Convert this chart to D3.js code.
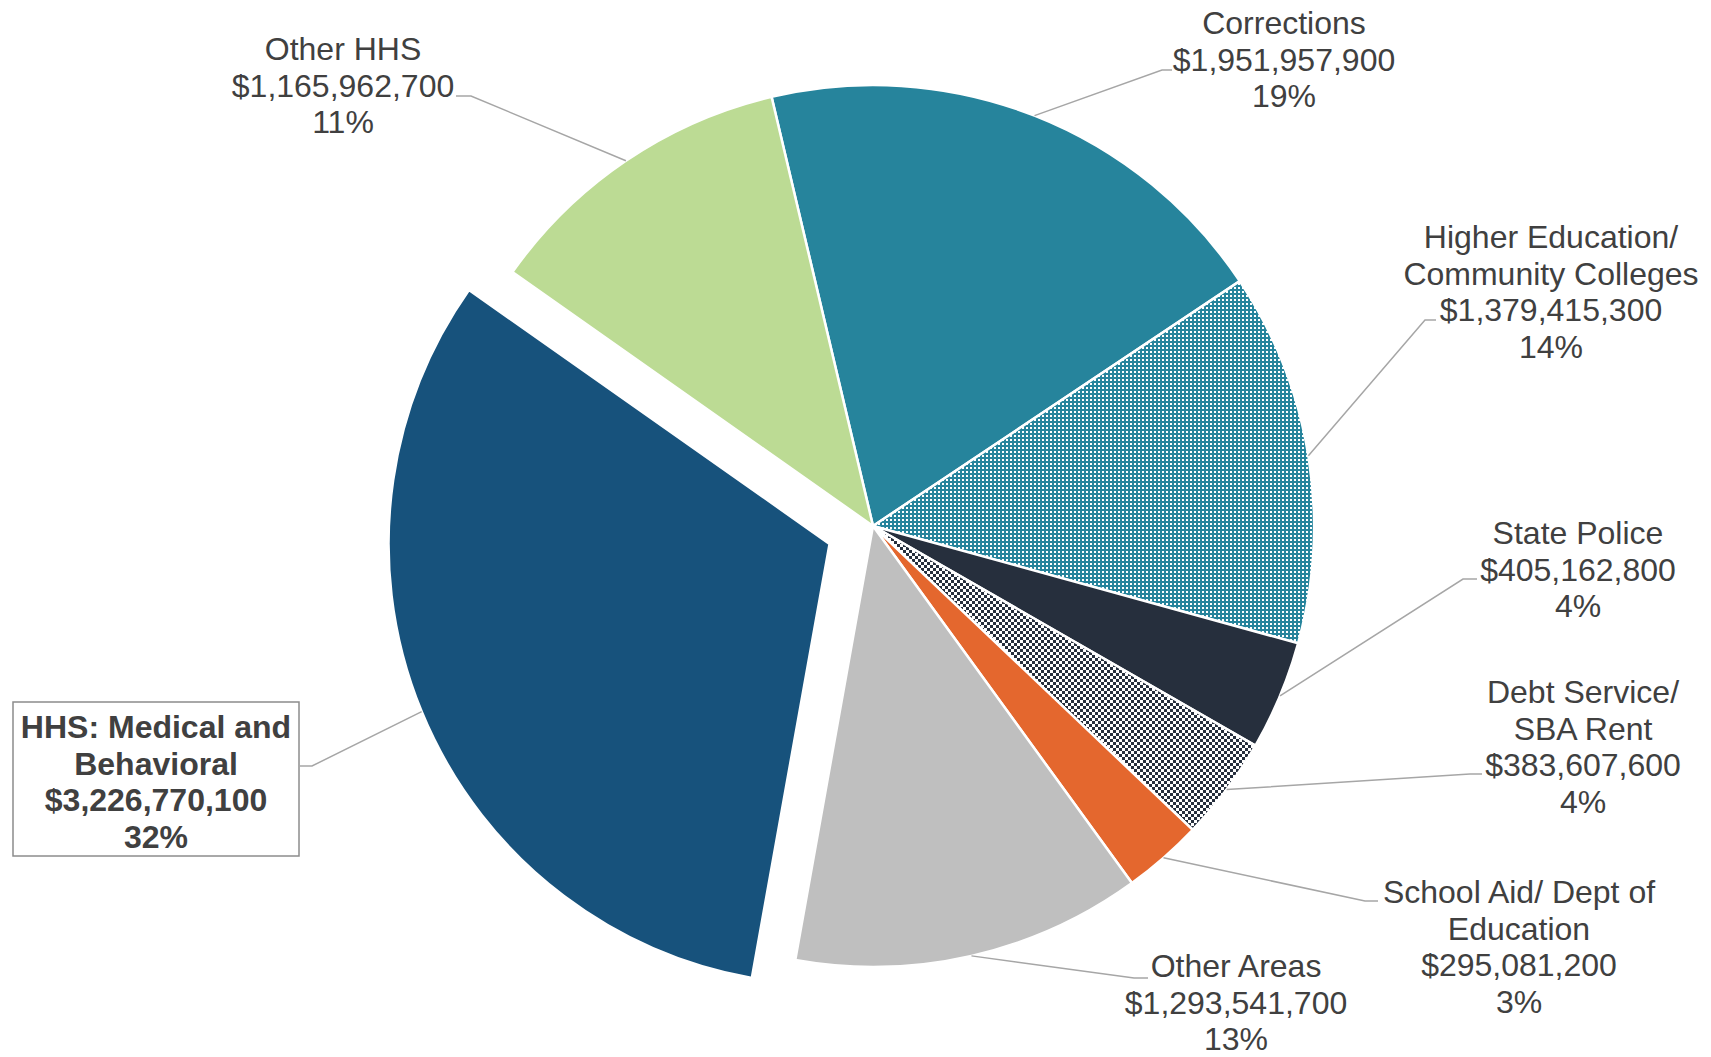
<!DOCTYPE html>
<html>
<head>
<meta charset="utf-8">
<script src="https://cdn.jsdelivr.net/npm/d3@7"></script>
<style>
  html, body { margin: 0; padding: 0; background: #ffffff; }
  svg { display: block; }
</style>
</head>
<body>
<svg id="chart" width="1711" height="1057"></svg>
<script>
// ---- DATA ----
const categories = [
  ["Corrections"],
  ["Higher Education/", "Community Colleges"],
  ["State Police"],
  ["Debt Service/", "SBA Rent"],
  ["School Aid/ Dept of", "Education"],
  ["Other Areas"],
  ["HHS: Medical and", "Behavioral"],
  ["Other HHS"]
];
const values = [1951957900, 1379415300, 405162800, 383607600, 295081200, 1293541700, 3226770100, 1165962700];
const percentLabels = ["19%", "14%", "4%", "4%", "3%", "13%", "32%", "11%"];

// ---- LAYOUT / STYLE ----
const W = 1711, H = 1057;
const cx = 873, cy = 526, R = 441;
const startDeg = -13.3;
const explodeIndex = 6, explodeDist = 47;
const fills = ["#26849c", "url(#dots)", "#262f3d", "url(#checker)", "#e4672e", "#bfbfbf", "#17527c", "#bcdb94"];
const fontSize = 32, lineH = 36.5;
const textColor = "#404040";
// label anchor (center x, center y of first line) and leader elbow points
const labelLayout = [
  { x: 1284, y: 23,  leader: [[1172, 70], [1162, 70]] },
  { x: 1551, y: 237, leader: [[1436, 320], [1425, 320]] },
  { x: 1578, y: 533, leader: [[1477, 579], [1463, 579]] },
  { x: 1583, y: 692, leader: [[1482, 774], [1470, 774]] },
  { x: 1519, y: 892, leader: [[1378, 901], [1365, 901]] },
  { x: 1236, y: 966, leader: [[1148, 978], [1134, 978]] },
  { x: 156,  y: 727, leader: [[300, 766], [312, 766]], box: [13, 702, 299, 856], bold: true },
  { x: 343,  y: 49,  leader: [[456, 96], [471, 96]] }
];

const fmt = d3.format("$,");

const svg = d3.select("#chart");
const defs = svg.append("defs");

// dotted teal pattern
const dots = defs.append("pattern").attr("id", "dots")
  .attr("patternUnits", "userSpaceOnUse").attr("width", 4).attr("height", 4);
dots.append("rect").attr("width", 4).attr("height", 4).attr("fill", "#26849c");
dots.append("rect").attr("x", 1).attr("y", 1).attr("width", 2).attr("height", 2).attr("fill", "#ffffff");

// checkerboard pattern
const chk = defs.append("pattern").attr("id", "checker")
  .attr("patternUnits", "userSpaceOnUse").attr("width", 6).attr("height", 6);
chk.append("rect").attr("width", 6).attr("height", 6).attr("fill", "#ffffff");
chk.append("rect").attr("x", 0).attr("y", 0).attr("width", 3).attr("height", 3).attr("fill", "#262f3d");
chk.append("rect").attr("x", 3).attr("y", 3).attr("width", 3).attr("height", 3).attr("fill", "#262f3d");

const a0 = startDeg * Math.PI / 180;
const pie = d3.pie().sort(null).value(d => d).startAngle(a0).endAngle(a0 + 2 * Math.PI);
const arcs = pie(values);
const arcGen = d3.arc().innerRadius(0).outerRadius(R);
const edgeGen = d3.arc().innerRadius(R).outerRadius(R);

function offsetOf(i) {
  if (i !== explodeIndex) return [0, 0];
  const mid = (arcs[i].startAngle + arcs[i].endAngle) / 2;
  return [Math.sin(mid) * explodeDist, -Math.cos(mid) * explodeDist];
}

const g = svg.append("g").attr("transform", `translate(${cx},${cy})`);
g.selectAll("path.slice").data(arcs).enter().append("path")
  .attr("class", "slice")
  .attr("transform", (d, i) => { const o = offsetOf(i); return `translate(${o[0]},${o[1]})`; })
  .attr("d", arcGen)
  .attr("fill", (d, i) => fills[i])
  .attr("stroke", "#ffffff")
  .attr("stroke-width", 2.5)
  .attr("stroke-linejoin", "round");

// leader lines
const line = d3.line();
arcs.forEach((d, i) => {
  const o = offsetOf(i);
  const c = edgeGen.centroid(d);
  const end = [cx + o[0] + c[0], cy + o[1] + c[1]];
  const pts = labelLayout[i].leader.concat([end]);
  svg.append("path").attr("d", line(pts))
    .attr("fill", "none").attr("stroke", "#a6a6a6").attr("stroke-width", 1.5);
});

// labels
arcs.forEach((d, i) => {
  const L = labelLayout[i];
  if (L.box) {
    svg.append("rect").attr("x", L.box[0]).attr("y", L.box[1])
      .attr("width", L.box[2] - L.box[0]).attr("height", L.box[3] - L.box[1])
      .attr("fill", "#ffffff").attr("stroke", "#8c8c8c").attr("stroke-width", 1.5);
  }
  const lines = categories[i].concat([fmt(values[i]), percentLabels[i]]);
  const t = svg.append("text")
    .attr("text-anchor", "middle")
    .attr("font-family", "'Liberation Sans', Arial, sans-serif")
    .attr("font-size", fontSize)
    .attr("font-weight", L.bold ? "bold" : "normal")
    .attr("fill", textColor);
  lines.forEach((s, k) => {
    t.append("tspan").attr("x", L.x).attr("y", L.y + k * lineH).attr("dy", "0.35em").text(s);
  });
});
</script>
</body>
</html>
